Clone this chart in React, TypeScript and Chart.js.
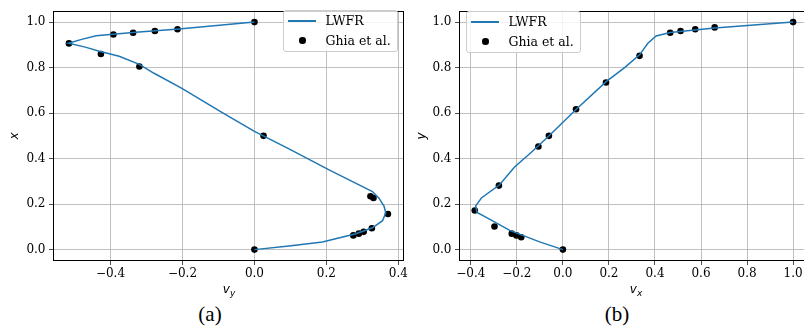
import React, { useEffect, useRef } from "react";
import { Chart, registerables } from "chart.js";
Chart.register(...registerables);

// ---------- Data (a): v_y along horizontal centerline ----------
const lwfrPosA = [1.0, 0.97, 0.955, 0.94, 0.924, 0.907, 0.89, 0.872, 0.85, 0.814, 0.775, 0.711, 0.6, 0.52, 0.443, 0.348, 0.255, 0.226, 0.191, 0.162, 0.127, 0.096, 0.07, 0.034, 0.016, 0.0];
const lwfrVy = [0.0, -0.21, -0.33, -0.44, -0.48, -0.517, -0.47, -0.431, -0.376, -0.32, -0.279, -0.204, -0.087, 0.0, 0.096, 0.21, 0.328, 0.346, 0.36, 0.365, 0.356, 0.328, 0.282, 0.189, 0.096, 0.0];
const ghiaPosA = [1.0, 0.9688, 0.9609, 0.9531, 0.9453, 0.9063, 0.8594, 0.8047, 0.5, 0.2344, 0.2266, 0.1563, 0.0938, 0.0781, 0.0703, 0.0625, 0.0];
const ghiaVy = [0.0, -0.21388, -0.27669, -0.33714, -0.39188, -0.5155, -0.42665, -0.31966, 0.02526, 0.32235, 0.33075, 0.37095, 0.32627, 0.30353, 0.29012, 0.27485, 0.0];

// ---------- Data (b): v_x along vertical centerline ----------
const lwfrPosB = [1.0, 0.974, 0.954, 0.9386, 0.907, 0.856, 0.8, 0.738, 0.617, 0.4996, 0.428, 0.3635, 0.285, 0.227, 0.192, 0.163, 0.142, 0.0845, 0.034, 0.0];
const lwfrVx = [1.0, 0.659, 0.466, 0.405, 0.369, 0.333, 0.268, 0.188, 0.058, -0.061, -0.137, -0.21, -0.275, -0.354, -0.379, -0.373, -0.333, -0.231, -0.101, 0.0];
const ghiaPosB = [1.0, 0.9766, 0.9688, 0.9609, 0.9531, 0.8516, 0.7344, 0.6172, 0.5, 0.4531, 0.2813, 0.1719, 0.1016, 0.0703, 0.0625, 0.0547, 0.0];
const ghiaVx = [1.0, 0.65928, 0.57492, 0.51117, 0.46604, 0.33304, 0.18719, 0.05702, -0.0608, -0.10648, -0.27805, -0.38289, -0.2973, -0.2222, -0.20196, -0.18109, 0.0];

// ---------- Ticks ----------
const xTicksA = [-0.4, -0.2, 0, 0.2, 0.4];
const xTickLabelsA = ["\u22120.4", "\u22120.2", "0.0", "0.2", "0.4"];
const xTicksB = [-0.4, -0.2, 0, 0.2, 0.4, 0.6, 0.8, 1.0];
const xTickLabelsB = ["\u22120.4", "\u22120.2", "0.0", "0.2", "0.4", "0.6", "0.8", "1.0"];
const yTicks = [0, 0.2, 0.4, 0.6, 0.8, 1.0];
const yTickLabels = ["0.0", "0.2", "0.4", "0.6", "0.8", "1.0"];

const BLUE = "#1f77b4";

const framePlugin = {
  id: "frame",
  afterDatasetsDraw(chart: any) {
    const { ctx, chartArea: a } = chart;
    ctx.save();
    ctx.strokeStyle = "#000";
    ctx.lineWidth = 1;
    ctx.strokeRect(Math.round(a.left) + 0.5, Math.round(a.top) + 0.5, Math.round(a.right - a.left) - 1, Math.round(a.bottom - a.top) - 1);
    ctx.restore();
  },
};

function makeConfig(opts: any) {
  const {
    linePos, lineVal, ptsPos, ptsVal, xMin, xMax, xTicks, xLabels, yTitle, yTitlePad, yWidth, padding,
  } = opts;
  const tickFont = { family: "'DejaVu Serif'", size: 12 };
  const grid = { color: "#b0b0b0", lineWidth: 0.8, tickLength: 4, tickColor: "#222", tickWidth: 0.8 };
  return {
    type: "scatter",
    data: {
      datasets: [
        {
          label: "LWFR",
          data: lineVal.map((v: number, i: number) => ({ x: v, y: linePos[i] })),
          showLine: true,
          borderColor: BLUE,
          borderWidth: 1.5,
          pointRadius: 0,
          tension: 0,
          order: 0,
        },
        {
          label: "Ghia et al.",
          data: ptsVal.map((v: number, i: number) => ({ x: v, y: ptsPos[i] })),
          showLine: false,
          backgroundColor: "#000",
          borderColor: "#000",
          borderWidth: 0,
          pointRadius: 3.3,
          order: 1,
        },
      ],
    },
    options: {
      responsive: false,
      animation: false,
      devicePixelRatio: 1,
      layout: { padding },
      plugins: { legend: { display: false }, tooltip: { enabled: false } },
      scales: {
        x: {
          type: "linear",
          min: xMin,
          max: xMax,
          afterBuildTicks: (s: any) => {
            s.ticks = xTicks.map((v: number) => ({ value: v }));
          },
          afterFit: (s: any) => {
            s.height = 39;
          },
          ticks: {
            callback: (_v: any, i: number) => xLabels[i],
            font: tickFont,
            color: "#000",
            padding: 2,
            autoSkip: false,
            maxRotation: 0,
          },
          grid,
          border: { display: false },
        },
        y: {
          type: "linear",
          min: -0.05,
          max: 1.05,
          afterBuildTicks: (s: any) => {
            s.ticks = yTicks.map((v: number) => ({ value: v }));
          },
          afterFit: (s: any) => {
            s.width = yWidth;
          },
          ticks: {
            callback: (_v: any, i: number) => yTickLabels[i],
            font: tickFont,
            color: "#000",
            padding: 3.5,
            autoSkip: false,
          },
          title: {
            display: true,
            text: yTitle,
            color: "#000",
            font: { family: "'DejaVu Sans'", size: 12, style: "italic" },
            padding: { top: yTitlePad, bottom: 0 },
          },
          grid,
          border: { display: false },
        },
      },
    },
    plugins: [framePlugin],
  };
}

function ChartCanvas({ config, width, height }: any) {
  const ref = useRef<HTMLCanvasElement>(null);
  useEffect(() => {
    const chart = new Chart(ref.current as HTMLCanvasElement, config);
    return () => chart.destroy();
  }, []);
  return <canvas ref={ref} width={width} height={height} style={{ width, height, display: "block" }} />;
}

function Legend({ left, top }: { left: number; top: number }) {
  const font = { fontFamily: "'DejaVu Serif'", fontSize: 12.5, color: "#000", lineHeight: "14px" };
  return (
    <div
      style={{
        position: "absolute",
        left,
        top,
        width: 115,
        height: 42,
        boxSizing: "border-box",
        border: "1px solid #cccccc",
        borderRadius: 3,
        background: "rgba(255,255,255,0.8)",
      }}
    >
      <div style={{ position: "absolute", left: 4, top: 9, width: 28, height: 1.6, background: BLUE }} />
      <span style={{ position: "absolute", left: 41.5, top: 2.5, whiteSpace: "nowrap", ...font }}>LWFR</span>
      <div style={{ position: "absolute", left: 15, top: 26, width: 6.6, height: 6.6, borderRadius: "50%", background: "#000" }} />
      <span style={{ position: "absolute", left: 41.5, top: 23, whiteSpace: "nowrap", ...font }}>Ghia et al.</span>
    </div>
  );
}

function AxisLabel({ x, y, sub }: { x: number; y: number; sub: string }) {
  return (
    <div
      style={{
        position: "absolute",
        left: x,
        top: y,
        transform: "translate(-50%, -50%)",
        fontFamily: "'DejaVu Sans'",
        fontStyle: "italic",
        fontSize: 12,
        lineHeight: "14px",
        whiteSpace: "nowrap",
        color: "#000",
      }}
    >
      v<sub style={{ fontSize: 9, verticalAlign: "-3px", lineHeight: 0 }}>{sub}</sub>
    </div>
  );
}

function Caption({ x, y, text }: { x: number; y: number; text: string }) {
  return (
    <div
      style={{
        position: "absolute",
        left: x,
        top: y,
        transform: "translate(-50%, -50%)",
        fontFamily: "'Liberation Serif'",
        fontSize: 21,
        lineHeight: "24px",
        whiteSpace: "nowrap",
        color: "#000",
      }}
    >
      {text}
    </div>
  );
}

export default function App() {
  const configA = makeConfig({
    linePos: lwfrPosA,
    lineVal: lwfrVy,
    ptsPos: ghiaPosA,
    ptsVal: ghiaVy,
    xMin: -0.5598,
    xMax: 0.4153,
    xTicks: xTicksA,
    xLabels: xTickLabelsA,
    yTitle: "x",
    yTitlePad: 8,
    yWidth: 53,
    padding: { top: 4, right: 5, left: 0, bottom: 0 },
  });
  const configB = makeConfig({
    linePos: lwfrPosB,
    lineVal: lwfrVx,
    ptsPos: ghiaPosB,
    ptsVal: ghiaVx,
    xMin: -0.4514,
    xMax: 1.0691,
    xTicks: xTicksB,
    xLabels: xTickLabelsB,
    yTitle: "y",
    yTitlePad: 4.5,
    yWidth: 49,
    padding: { top: 5, right: 5, left: 0, bottom: 0 },
  });
  return (
    <div style={{ position: "fixed", left: 0, top: 0, width: 804, height: 335, overflow: "hidden", background: "#fff" }}>
      <div style={{ position: "absolute", left: 0, top: 0 }}>
        <ChartCanvas config={configA} width={410} height={300} />
      </div>
      <div style={{ position: "absolute", left: 410, top: 0 }}>
        <ChartCanvas config={configB} width={404} height={300} />
      </div>
      <Legend left={283} top={10} />
      <Legend left={466} top={11} />
      <AxisLabel x={229} y={289} sub="y" />
      <AxisLabel x={636} y={289} sub="x" />
      <Caption x={210} y={314} text="(a)" />
      <Caption x={617} y={314} text="(b)" />
    </div>
  );
}
